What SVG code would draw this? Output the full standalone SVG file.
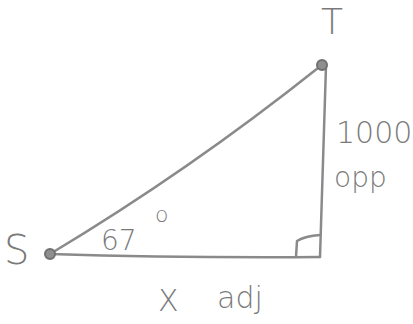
<svg xmlns="http://www.w3.org/2000/svg" width="413" height="324" viewBox="0 0 413 324">
<style>
.ln{fill:none;stroke:#8a8a8a;stroke-width:2.5;stroke-linecap:round;stroke-linejoin:round}
.t{font-family:"DejaVu Sans",sans-serif;fill:#7a7a7a;font-weight:300}
.dot{fill:#8f8f8f;stroke:#707070;stroke-width:2}
</style>
<rect width="413" height="324" fill="#fff"/>
<g id="connectors">
<path class="ln" d="M50 254 Q190 170 318 68"/>
<path class="ln" d="M50 254 Q180 258 320 257"/>
<path class="ln" d="M326 66 Q323 160 320 257"/>
<path class="ln" d="M296 257 L297 241 Q305 236 320 235"/>
</g>
<g id="S">
<circle class="dot" cx="50" cy="254" r="5"/>
<text class="t" x="4" y="264" font-size="40">S</text>
</g>
<g id="T">
<circle class="dot" cx="322" cy="65" r="5"/>
<text class="t" x="332" y="34" font-size="36" text-anchor="middle">T</text>
</g>
<g id="labels">
<text class="t" x="101" y="250" font-size="28">67</text>
<text class="t" x="155" y="222" font-size="22">o</text>
<text class="t" x="336" y="143" font-size="30">1000</text>
<text class="t" x="334" y="187" font-size="28">opp</text>
<text class="t" x="158" y="311" font-size="30">X</text>
<text class="t" x="217" y="308" font-size="30">adj</text>
</g>
</svg>
